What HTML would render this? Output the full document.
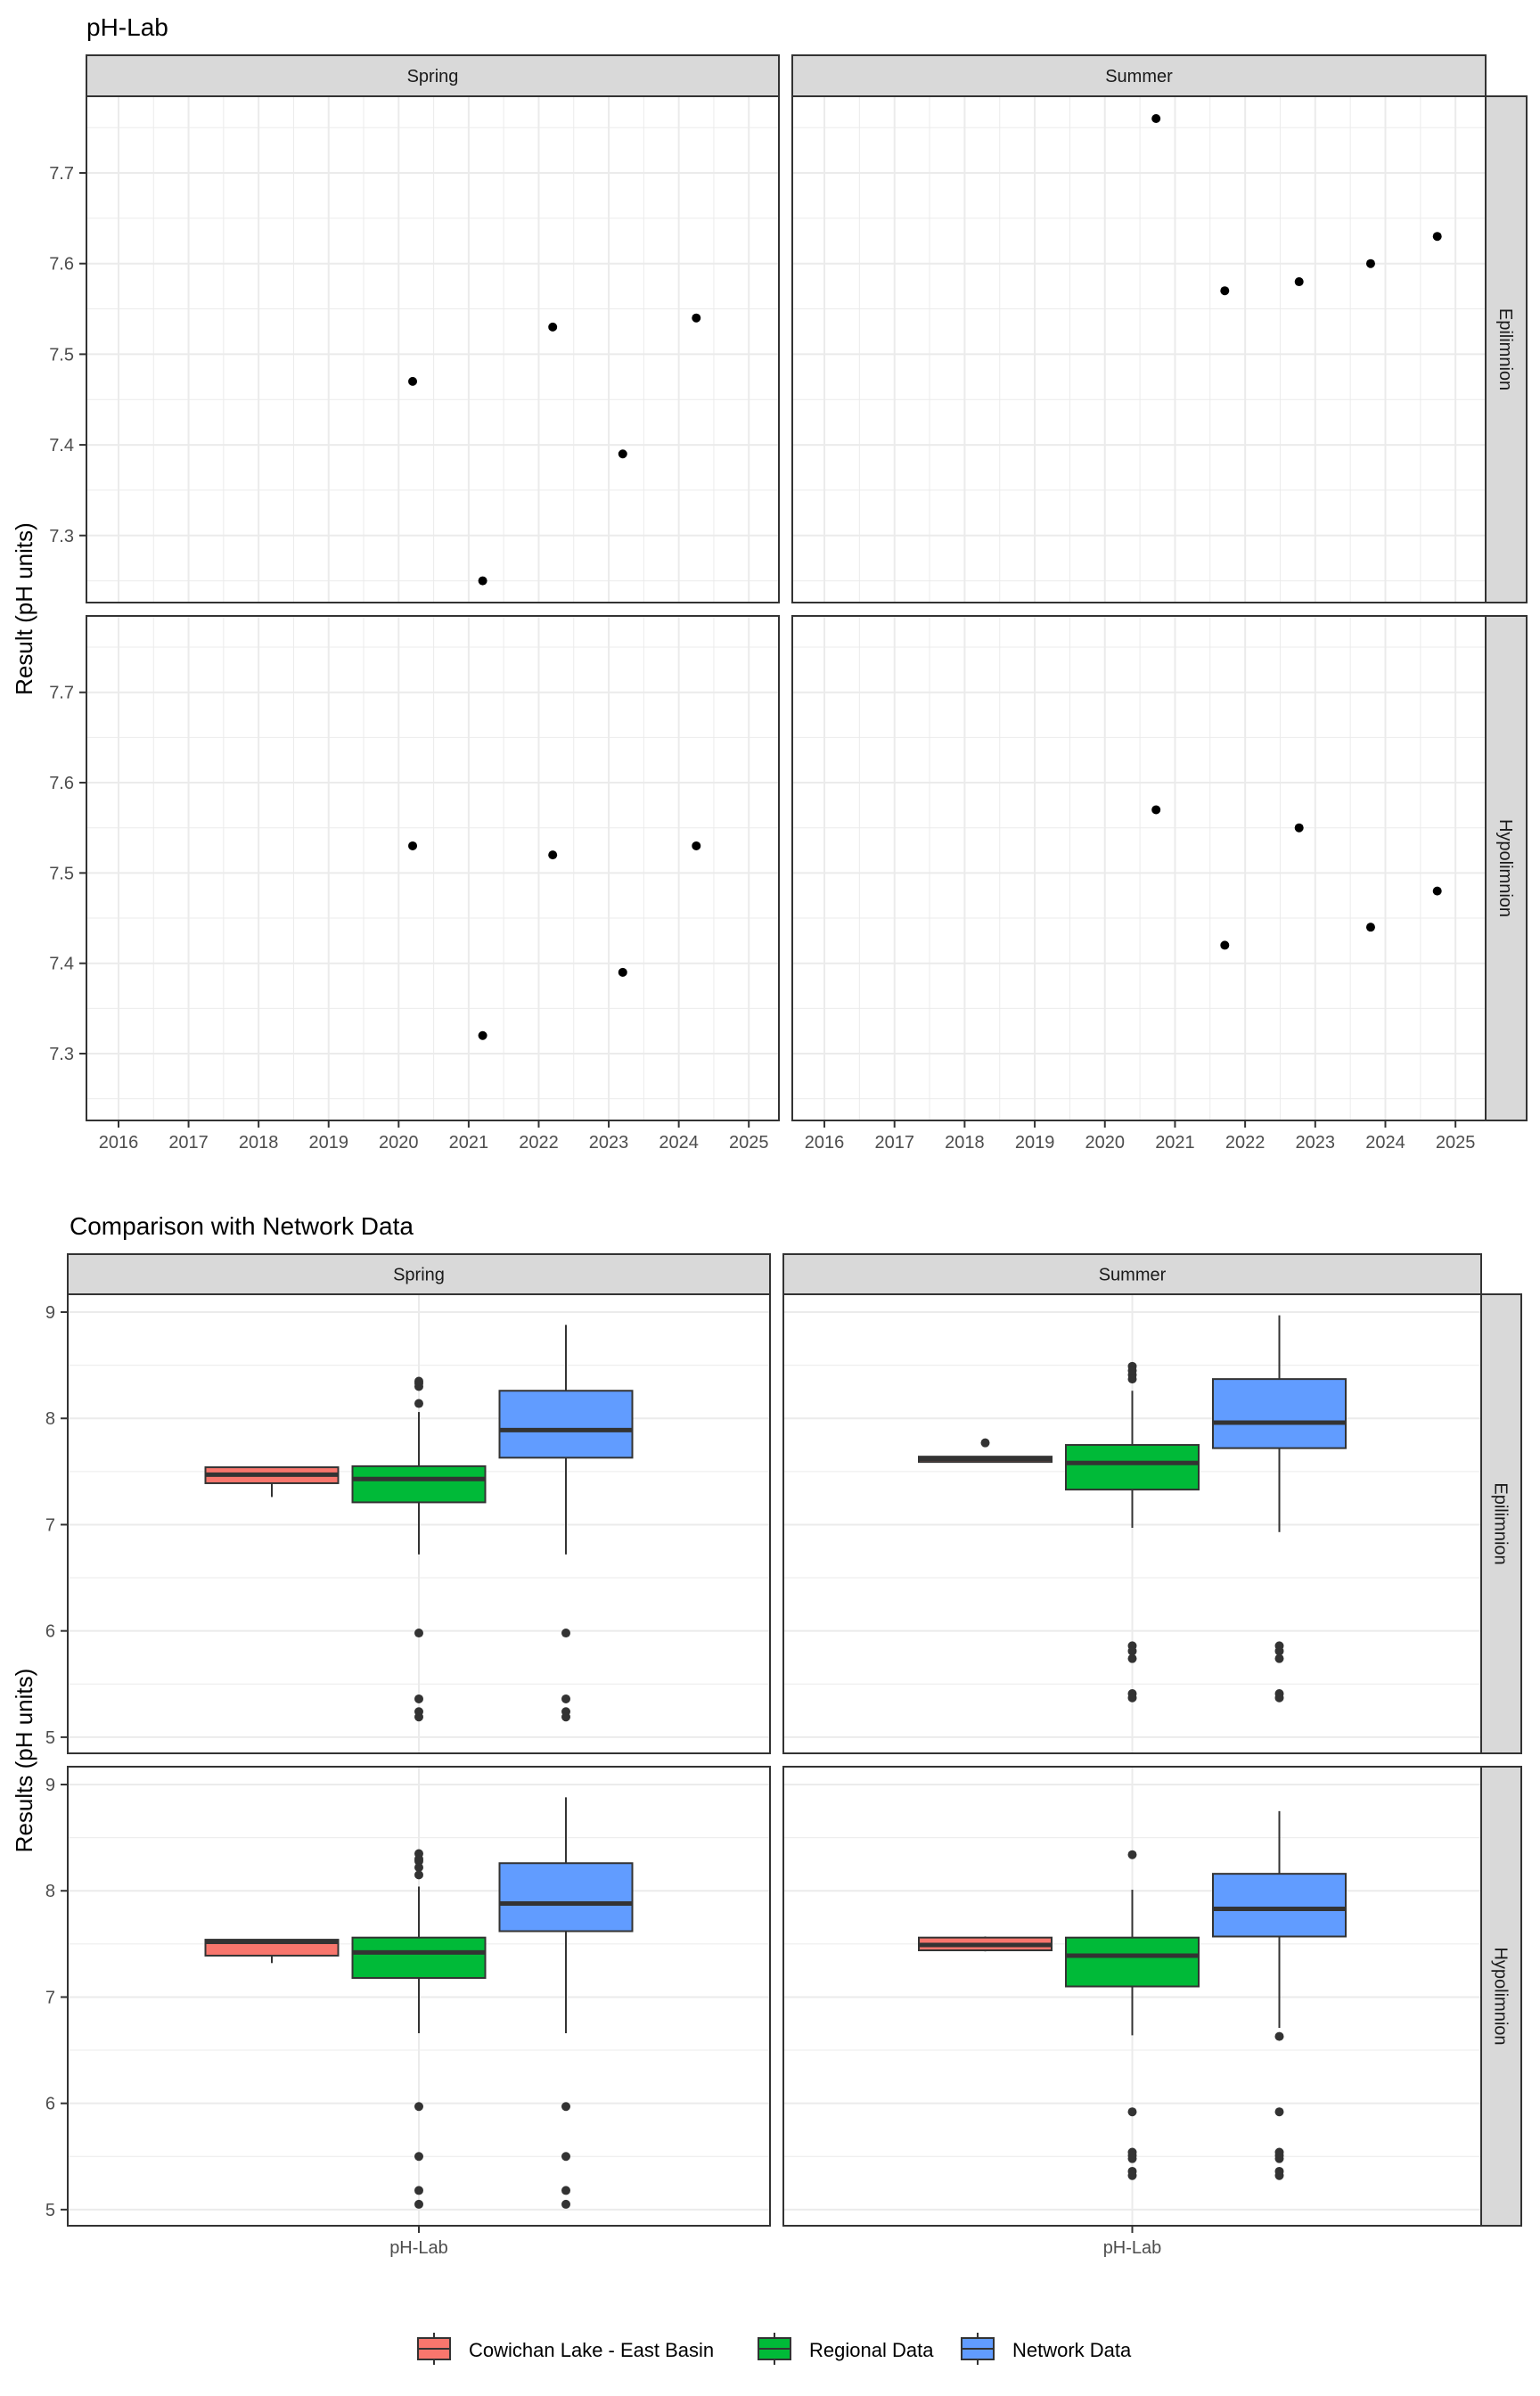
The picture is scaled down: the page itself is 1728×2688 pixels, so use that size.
<!DOCTYPE html>
<html><head><meta charset="utf-8"><title>pH-Lab</title>
<style>
html,body{margin:0;padding:0;background:#fff;}
svg{display:block;font-family:"Liberation Sans",Arial,sans-serif;}
</style></head>
<body>
<svg id="chart" width="1728" height="2688" viewBox="0 0 1728 2688" xmlns="http://www.w3.org/2000/svg">
<rect width="1728" height="2688" fill="#fff"/>
<text x="97" y="40" font-size="28" fill="#000">pH-Lab</text>
<text x="78" y="1385" font-size="28" fill="#000">Comparison with Network Data</text>
<text transform="translate(36,683) rotate(-90)" text-anchor="middle" font-size="26" fill="#000">Result (pH units)</text>
<text transform="translate(36,1975) rotate(-90)" text-anchor="middle" font-size="26" fill="#000">Results (pH units)</text>
<g id="top"></g>
<g id="bottom"></g>
<g id="legend"></g>
</svg>
<script>
// ---- Top chart data ----
const seasons = ["Spring","Summer"];
const layers = ["Epilimnion","Hypolimnion"];
const yearTicks = [2016,2017,2018,2019,2020,2021,2022,2023,2024,2025];
const phTicks = [7.3,7.4,7.5,7.6,7.7];
const springEpiYears = [2020.2,2021.2,2022.2,2023.2,2024.25];
const springEpiValues = [7.47,7.25,7.53,7.39,7.54];
const summerEpiYears = [2020.73,2021.71,2022.77,2023.79,2024.74];
const summerEpiValues = [7.76,7.57,7.58,7.60,7.63];
const springHypoYears = [2020.2,2021.2,2022.2,2023.2,2024.25];
const springHypoValues = [7.53,7.32,7.52,7.39,7.53];
const summerHypoYears = [2020.73,2021.71,2022.77,2023.79,2024.74];
const summerHypoValues = [7.57,7.42,7.55,7.44,7.48];

// ---- Bottom chart data ----
const groups = ["Cowichan Lake - East Basin","Regional Data","Network Data"];
const groupColors = ["#f8766d","#00ba38","#619cff"];
const boxTicks = [5,6,7,8,9];
const category = ["pH-Lab"];
// [lowWhisker, q1, median, q3, highWhisker] per group
const springEpiBoxes = [[7.26,7.39,7.47,7.54,7.54],[6.72,7.21,7.43,7.55,8.06],[6.72,7.63,7.89,8.26,8.88]];
const springEpiOutliers = [[],[8.30,8.33,8.35,8.14,5.98,5.36,5.24,5.19],[5.98,5.36,5.24,5.19]];
const summerEpiBoxes = [[7.59,7.59,7.62,7.64,7.64],[6.97,7.33,7.58,7.75,8.26],[6.93,7.72,7.96,8.37,8.97]];
const summerEpiOutliers = [[7.77],[8.49,8.45,8.41,8.37,5.86,5.81,5.74,5.41,5.37],[5.86,5.81,5.74,5.41,5.37]];
const springHypoBoxes = [[7.32,7.39,7.52,7.54,7.54],[6.66,7.18,7.42,7.56,8.04],[6.66,7.62,7.88,8.26,8.88]];
const springHypoOutliers = [[],[8.35,8.30,8.28,8.22,8.15,5.97,5.50,5.18,5.05],[5.97,5.50,5.18,5.05]];
const summerHypoBoxes = [[7.43,7.44,7.49,7.56,7.57],[6.64,7.10,7.39,7.56,8.01],[6.71,7.57,7.83,8.16,8.75]];
const summerHypoOutliers = [[],[8.34,5.92,5.54,5.51,5.48,5.36,5.32],[6.63,5.92,5.54,5.51,5.48,5.36,5.32]];

const NS="http://www.w3.org/2000/svg";
function mk(parent,tag,attrs){const e=document.createElementNS(NS,tag);for(const k in attrs)e.setAttribute(k,attrs[k]);parent.appendChild(e);return e;}

// ---------- Top chart ----------
const topG=document.getElementById('top');
const tCols=[[97,874],[889,1667]];
const tRows=[[108,676],[691,1257]];
const xDom=[2015.542,2025.43];
const yDom=[7.226,7.7846];
function tx(c,v){const [a,b]=tCols[c];return a+(v-xDom[0])/(xDom[1]-xDom[0])*(b-a);}
function ty(r,v){const [a,b]=tRows[r];return b-(v-yDom[0])/(yDom[1]-yDom[0])*(b-a);}
const topYears=[[springEpiYears,summerEpiYears],[springHypoYears,summerHypoYears]];
const topVals=[[springEpiValues,summerEpiValues],[springHypoValues,summerHypoValues]];
for(let r=0;r<2;r++)for(let c=0;c<2;c++){
  const [x0,x1]=tCols[c],[y0,y1]=tRows[r];
  const p=mk(topG,'g',{});
  
  
  for(let i=0;i<phTicks.length+1;i++){const v=phTicks[0]-0.05+i*0.1;const y=ty(r,v);if(y>y0&&y<y1)mk(p,'line',{x1:x0,x2:x1,y1:y,y2:y,stroke:'#ebebeb','stroke-width':1});}
  for(let i=0;i<yearTicks.length+1;i++){const v=yearTicks[0]-0.5+i;const x=tx(c,v);if(x>x0&&x<x1)mk(p,'line',{x1:x,x2:x,y1:y0,y2:y1,stroke:'#ebebeb','stroke-width':1});}
  phTicks.forEach(v=>{const y=ty(r,v);mk(p,'line',{x1:x0,x2:x1,y1:y,y2:y,stroke:'#ebebeb','stroke-width':2});});
  yearTicks.forEach(v=>{const x=tx(c,v);mk(p,'line',{x1:x,x2:x,y1:y0,y2:y1,stroke:'#ebebeb','stroke-width':2});});
  topYears[r][c].forEach((yr,i)=>{const pt=mk(p,'circle',{cx:tx(c,yr),cy:ty(r,topVals[r][c][i]),r:5,fill:'#000'});
    
    });
  mk(p,'rect',{x:x0,y:y0,width:x1-x0,height:y1-y0,fill:'none',stroke:'#333','stroke-width':2});
  if(c===0){phTicks.forEach(v=>{const y=ty(r,v);mk(p,'line',{x1:x0-8,x2:x0,y1:y,y2:y,stroke:'#333','stroke-width':2});
    const t=mk(p,'text',{x:x0-14,y:y+7,'text-anchor':'end','font-size':20,fill:'#4d4d4d'});t.textContent=v.toFixed(1);
    });}
  if(r===1){yearTicks.forEach(v=>{const x=tx(c,v);mk(p,'line',{x1:x,x2:x,y1:y1,y2:y1+8,stroke:'#333','stroke-width':2});
    const t=mk(p,'text',{x:x,y:y1+31,'text-anchor':'middle','font-size':20,fill:'#4d4d4d'});t.textContent=v;
    });}
}
function strips(g,cols,rows,top,right,pref){
  cols.forEach((cc,c)=>{const s=mk(g,'g',{});
    mk(s,'rect',{x:cc[0],y:top,width:cc[1]-cc[0],height:rows[0][0]-top,fill:'#d9d9d9',stroke:'#333','stroke-width':2});
    const t=mk(s,'text',{x:(cc[0]+cc[1])/2,y:(top+rows[0][0])/2+7,'text-anchor':'middle','font-size':20,fill:'#1a1a1a'});t.textContent=seasons[c];});
  rows.forEach((rr,r)=>{const s=mk(g,'g',{});
    const x0=cols[1][1];
    mk(s,'rect',{x:x0,y:rr[0],width:right-x0,height:rr[1]-rr[0],fill:'#d9d9d9',stroke:'#333','stroke-width':2});
    const cx=(x0+right)/2,cy=(rr[0]+rr[1])/2;
    const t=mk(s,'text',{transform:'translate('+(cx-7)+','+cy+') rotate(90)','text-anchor':'middle','font-size':20,fill:'#1a1a1a'});t.textContent=layers[r];});
}
strips(topG,tCols,tRows,62,1713,'top');

// ---------- Bottom chart ----------
const botG=document.getElementById('bottom');
const bCols=[[76,864],[879,1662]];
const bRows=[[1452,1967],[1982,2497]];
const bDom=[4.848,9.168];
function by(r,v){const [a,b]=bRows[r];return b-(v-bDom[0])/(bDom[1]-bDom[0])*(b-a);}
const boxData=[[springEpiBoxes,summerEpiBoxes],[springHypoBoxes,summerHypoBoxes]];
const outData=[[springEpiOutliers,summerEpiOutliers],[springHypoOutliers,summerHypoOutliers]];
const dodge=165, bw=149;
for(let r=0;r<2;r++)for(let c=0;c<2;c++){
  const [x0,x1]=bCols[c],[y0,y1]=bRows[r];const cx=(x0+x1)/2;
  const p=mk(botG,'g',{});
  
  
  for(let i=0;i<boxTicks.length-1;i++){const y=by(r,boxTicks[i]+0.5);mk(p,'line',{x1:x0,x2:x1,y1:y,y2:y,stroke:'#ebebeb','stroke-width':1});}
  boxTicks.forEach(v=>{const y=by(r,v);mk(p,'line',{x1:x0,x2:x1,y1:y,y2:y,stroke:'#ebebeb','stroke-width':2});});
  mk(p,'line',{x1:cx,x2:cx,y1:y0,y2:y1,stroke:'#ebebeb','stroke-width':2});
  boxData[r][c].forEach((b,g)=>{
    const gx=cx+(g-1)*dodge;
    const bx=mk(p,'g',{});
    
    
    mk(bx,'line',{x1:gx,x2:gx,y1:by(r,b[0]),y2:by(r,b[1]),stroke:'#333','stroke-width':2});
    mk(bx,'line',{x1:gx,x2:gx,y1:by(r,b[3]),y2:by(r,b[4]),stroke:'#333','stroke-width':2});
    mk(bx,'rect',{x:gx-bw/2,y:by(r,b[3]),width:bw,height:Math.max(by(r,b[1])-by(r,b[3]),1),fill:groupColors[g],stroke:'#333','stroke-width':2});
    mk(bx,'line',{x1:gx-bw/2,x2:gx+bw/2,y1:by(r,b[2]),y2:by(r,b[2]),stroke:'#333','stroke-width':5});
    outData[r][c][g].forEach(v=>{const o=mk(bx,'circle',{cx:gx,cy:by(r,v),r:5,fill:'#333'});
      });
  });
  mk(p,'rect',{x:x0,y:y0,width:x1-x0,height:y1-y0,fill:'none',stroke:'#333','stroke-width':2});
  if(c===0){boxTicks.forEach(v=>{const y=by(r,v);mk(p,'line',{x1:x0-8,x2:x0,y1:y,y2:y,stroke:'#333','stroke-width':2});
    const t=mk(p,'text',{x:x0-14,y:y+7,'text-anchor':'end','font-size':20,fill:'#4d4d4d'});t.textContent=v;
    });}
  if(r===1){mk(p,'line',{x1:cx,x2:cx,y1:y1,y2:y1+8,stroke:'#333','stroke-width':2});
    const t=mk(p,'text',{x:cx,y:y1+31,'text-anchor':'middle','font-size':20,fill:'#4d4d4d'});t.textContent=category[0];
    }
}
strips(botG,bCols,bRows,1407,1707,'bottom');

// ---------- Legend ----------
const lg=document.getElementById('legend');
const keyX=[469,851,1079];
groups.forEach((g,i)=>{
  const e=mk(lg,'g',{});
  
  
  const x=keyX[i];
  mk(e,'line',{x1:x+18,x2:x+18,y1:2617,y2:2653,stroke:'#333','stroke-width':2});
  mk(e,'rect',{x:x,y:2623,width:36,height:24,fill:groupColors[i],stroke:'#333','stroke-width':2});
  mk(e,'line',{x1:x,x2:x+36,y1:2635,y2:2635,stroke:'#333','stroke-width':2});
  const t=mk(e,'text',{x:x+57,y:2644,'font-size':22,fill:'#000'});t.textContent=g;
});
</script>
</body></html>
